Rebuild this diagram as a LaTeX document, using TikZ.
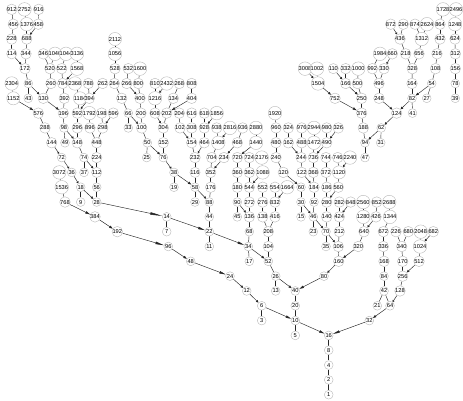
\documentclass[tikz,border=0pt]{standalone}
\usepackage{fontspec}
\setmainfont{Liberation Sans}
\usetikzlibrary{arrows.meta}
\pgfdeclarelayer{bg}
\pgfsetlayers{bg,main}
\tikzset{
  nd/.style={circle,draw=black!28,line width=0.4pt,fill=white,inner sep=0.1pt,minimum size=8.8pt,font=\fontsize{5.7}{6}\selectfont,text=black},
  edge/.style={draw=black!85,line width=0.45pt}
}
\newcommand\N[3]{\node[nd] (n#1) at (#2,{5.3+14.82*#3}) {#1};}
\newcommand\E[2]{%
  \pgfpointdiff{\pgfpointanchor{n#1}{center}}{\pgfpointanchor{n#2}{center}}%
  \pgfgetlastxy{\ex}{\ey}%
  \pgfmathsetmacro\elen{veclen(\ex,\ey)}%
  \pgfmathsetmacro\alen{max(0,0.19*\elen-1.6)}%
  \ifdim\alen pt<1.6pt
    \draw[edge] (n#1) -- (n#2);
  \else
    \draw[edge,-{Triangle[length=\alen pt,width=2.4pt]}] (n#1) -- (n#2);
  \fi}
\newcommand\EE[1]{\foreach \a/\b in {#1} {\E{\a}{\b}}}
\begin{document}
\begin{tikzpicture}[x=1pt,y=1pt]
\useasboundingbox (0,0) rectangle (463,400);
% d=26
\N{912}{11.7}{26}\N{2752}{24.5}{26}\N{916}{38.7}{26}\N{1728}{443}{26}\N{2496}{456}{26}
% d=25
\N{456}{13.3}{25}\N{1376}{26.7}{25}\N{458}{38.3}{25}
\N{872}{390.7}{25}\N{290}{403.3}{25}\N{874}{415}{25}\N{2624}{427}{25}\N{864}{440}{25}\N{1248}{455}{25}
% d=24
\N{228}{11.7}{24}\N{688}{26.7}{24}\N{2112}{115}{24}
\N{436}{400}{24}\N{1312}{421.7}{24}\N{432}{440}{24}\N{624}{455}{24}
% d=23
\N{114}{11.7}{23}\N{344}{26}{23}\N{346}{43.3}{23}\N{1040}{55}{23}\N{1044}{66}{23}\N{3136}{77}{23}\N{1056}{115}{23}
\N{1984}{380}{23}\N{660}{392.3}{23}\N{218}{405.7}{23}\N{656}{419}{23}\N{216}{437}{23}\N{312}{455.3}{23}
% d=22
\N{172}{25}{22}\N{520}{50}{22}\N{522}{61.7}{22}\N{1568}{77}{22}\N{528}{115}{22}\N{532}{128.3}{22}\N{1600}{140}{22}
\N{3008}{305}{22}\N{1002}{317}{22}\N{110}{333.3}{22}\N{332}{345.7}{22}\N{1000}{358.3}{22}\N{992}{372.3}{22}\N{330}{384}{22}\N{328}{412.3}{22}\N{108}{435.5}{22}\N{156}{455.3}{22}
% d=21
\N{2304}{11.7}{21}\N{86}{28.3}{21}\N{260}{51}{21}\N{784}{62.7}{21}\N{2368}{75}{21}\N{788}{88.3}{21}\N{262}{102.7}{21}\N{264}{114.3}{21}\N{266}{126.7}{21}\N{800}{138.3}{21}\N{810}{155}{21}\N{2432}{166.7}{21}\N{268}{179.3}{21}\N{808}{191.7}{21}
\N{1504}{318}{21}\N{166}{345.7}{21}\N{500}{357.5}{21}\N{496}{379}{21}\N{164}{412}{21}\N{54}{431.7}{21}\N{78}{455.3}{21}
% d=20
\N{1152}{13.3}{20}\N{43}{28.3}{20}\N{130}{43.3}{20}\N{392}{64.3}{20}\N{1184}{80}{20}\N{394}{89.3}{20}\N{132}{121.7}{20}\N{400}{140}{20}\N{1216}{155}{20}\N{134}{173.3}{20}\N{404}{191.7}{20}
\N{752}{335}{20}\N{250}{361.7}{20}\N{248}{379}{20}\N{82}{412}{20}\N{27}{426.7}{20}\N{39}{455.3}{20}
% d=19
\N{576}{38.3}{19}\N{196}{63.3}{19}\N{592}{77.3}{19}\N{1792}{89.3}{19}\N{198}{101.7}{19}\N{596}{113.3}{19}\N{66}{128.3}{19}\N{200}{141}{19}\N{608}{155}{19}\N{202}{166.7}{19}\N{204}{179.3}{19}\N{616}{191.7}{19}\N{618}{204.3}{19}\N{1856}{216.7}{19}\N{1920}{275}{19}
\N{376}{361.7}{19}\N{124}{396.7}{19}\N{41}{412.5}{19}
% d=18
\N{288}{45}{18}\N{98}{64}{18}\N{296}{77.3}{18}\N{896}{90}{18}\N{298}{102.7}{18}\N{33}{128.3}{18}\N{100}{141.7}{18}\N{304}{163.3}{18}\N{102}{180}{18}\N{308}{191.7}{18}\N{928}{204.3}{18}\N{938}{216.7}{18}\N{2816}{230}{18}\N{936}{242.7}{18}\N{2880}{256}{18}\N{960}{276}{18}\N{324}{288.3}{18}\N{976}{301.7}{18}\N{2944}{314}{18}\N{980}{326.7}{18}\N{326}{338.3}{18}\N{188}{363.3}{18}\N{62}{381.2}{18}
% d=17
\N{144}{51.7}{17}\N{49}{65}{17}\N{148}{77.3}{17}\N{448}{96.7}{17}\N{50}{147.3}{17}\N{152}{163.3}{17}\N{154}{191.7}{17}\N{464}{204.3}{17}\N{1408}{218.3}{17}\N{468}{237.3}{17}\N{1440}{256}{17}\N{480}{276}{17}\N{162}{288.3}{17}\N{488}{301.7}{17}\N{1472}{314}{17}\N{490}{326.7}{17}\N{94}{365}{17}\N{31}{380.7}{17}
% d=16
\N{72}{61.7}{16}\N{74}{84}{16}\N{224}{96.7}{16}\N{25}{146.7}{16}\N{76}{163.3}{16}\N{232}{195}{16}\N{704}{211.7}{16}\N{234}{224}{16}\N{720}{237.3}{16}\N{724}{249.3}{16}\N{2176}{261.7}{16}\N{240}{276}{16}\N{244}{301.2}{16}\N{736}{313.3}{16}\N{744}{326}{16}\N{746}{337.7}{16}\N{2240}{350}{16}\N{47}{365}{16}
% d=15
\N{3072}{59.3}{15}\N{36}{71.7}{15}\N{37}{84}{15}\N{112}{96.7}{15}\N{38}{174}{15}\N{116}{195}{15}\N{352}{210.7}{15}\N{360}{237.3}{15}\N{362}{249.3}{15}\N{1088}{262.7}{15}\N{120}{283.3}{15}\N{122}{301.7}{15}\N{368}{313.3}{15}\N{372}{326}{15}\N{1120}{339}{15}
% d=14
\N{1536}{61.7}{14}\N{18}{80.7}{14}\N{56}{96.7}{14}\N{19}{174}{14}\N{58}{195}{14}\N{176}{210.7}{14}\N{180}{237.3}{14}\N{544}{249.3}{14}\N{552}{262.7}{14}\N{554}{275}{14}\N{1664}{287.3}{14}\N{60}{301}{14}\N{184}{314}{14}\N{186}{326.7}{14}\N{560}{338.3}{14}
% d=13
\N{768}{65}{13}\N{9}{80.7}{13}\N{28}{96.7}{13}\N{29}{195}{13}\N{88}{209.3}{13}\N{90}{237.3}{13}\N{272}{249.3}{13}\N{276}{262.7}{13}\N{832}{275}{13}\N{30}{301}{13}\N{92}{314}{13}\N{280}{326.7}{13}\N{282}{339.3}{13}\N{848}{350.7}{13}\N{2560}{363.3}{13}\N{852}{376.7}{13}\N{2688}{389.3}{13}
% d=12
\N{384}{95}{12}\N{14}{166.7}{12}\N{44}{209.3}{12}\N{45}{237.3}{12}\N{136}{249.3}{12}\N{138}{262.7}{12}\N{416}{275}{12}\N{15}{301}{12}\N{46}{313.3}{12}\N{140}{326.7}{12}\N{424}{339.3}{12}\N{1280}{363.3}{12}\N{426}{376}{12}\N{1344}{390}{12}
% d=11
\N{192}{117.3}{11}\N{7}{166.7}{11}\N{22}{209.3}{11}\N{68}{249.3}{11}\N{208}{268.3}{11}\N{23}{313.3}{11}\N{70}{326}{11}\N{212}{339.3}{11}\N{640}{364}{11}\N{672}{383.3}{11}\N{226}{396}{11}\N{680}{408.3}{11}\N{2048}{420.7}{11}\N{682}{433.3}{11}
% d=10
\N{96}{168.3}{10}\N{11}{209.3}{10}\N{34}{248.3}{10}\N{104}{268.3}{10}\N{35}{326}{10}\N{106}{338.3}{10}\N{320}{358.3}{10}\N{336}{383.3}{10}\N{340}{401.7}{10}\N{1024}{420}{10}
% d=9
\N{48}{190.7}{9}\N{17}{249.3}{9}\N{52}{268.3}{9}\N{160}{338.7}{9}\N{168}{384}{9}\N{170}{402.7}{9}\N{512}{419}{9}
% d=8
\N{24}{230}{8}\N{26}{275.7}{8}\N{80}{324}{8}\N{84}{384}{8}\N{256}{402.7}{8}
% d=7
\N{12}{246.7}{7}\N{13}{275.7}{7}\N{40}{295.3}{7}\N{42}{384}{7}\N{128}{400}{7}
% d=6
\N{6}{261.7}{6}\N{20}{295.3}{6}\N{21}{377.3}{6}\N{64}{390}{6}
% d=5
\N{3}{261.7}{5}\N{10}{295.3}{5}\N{32}{369.3}{5}
% d<=4
\N{5}{295.3}{4}\N{16}{328.7}{4}\N{8}{328.7}{3}\N{4}{328.7}{2}\N{2}{328.7}{1}\N{1}{328.7}{0}
\begin{pgfonlayer}{bg}
\EE{912/456,456/228,228/114,114/172,2752/1376,1376/688,916/458,458/688,688/344,344/172,172/86,86/43,86/130,346/520,1040/520,520/260,260/130,1044/522,522/784,3136/1568,1568/784,784/392,392/196,130/196,2304/1152,1152/576,576/288,288/144,144/72,72/36,36/18,18/9,18/28,196/98,98/49,98/148,2368/1184,1184/592,788/394,262/394,394/592,592/296,296/148,148/74,74/37,74/112,1792/896,896/448,198/298,596/298,298/448,448/224,224/112,112/56,56/28,3072/1536,1536/768,768/384,384/192,192/96,96/48,48/24,24/12,12/6,6/3,6/10,28/14,14/7,14/22}
\EE{2112/1056,1056/528,528/264,264/132,132/66,66/33,66/100,532/266,266/400,1600/800,800/400,400/200,200/100,100/50,50/25,50/76,810/1216,2432/1216,1216/608,608/304,268/134,134/202,808/404,404/202,202/304,304/152,152/76,76/38,38/19,38/58,204/102,102/154,616/308,308/154,154/232,618/928,1856/928,928/464,464/232,232/116,116/58,58/29,58/88,938/1408,2816/1408,1408/704,704/352,936/468,468/234,234/352,352/176,176/88,88/44,44/22,22/11,22/34}
\EE{2880/1440,1440/720,720/360,360/180,180/90,90/45,90/136,724/362,362/544,2176/1088,1088/544,544/272,272/136,136/68,68/34,34/17,34/52,552/276,276/138,138/208,554/832,1664/832,832/416,416/208,208/104,104/52,52/26,26/13,26/40}
\EE{1920/960,960/480,480/240,240/120,120/60,60/30,30/15,30/46,324/162,162/244,976/488,488/244,244/122,122/184,2944/1472,1472/736,980/490,326/490,490/736,736/368,368/184,184/92,92/46,46/23,46/70,744/372,372/186,186/280,746/1120,2240/1120,1120/560,560/280,280/140,140/70,70/35,70/106,282/424,848/424,424/212,212/106,106/160,2560/1280,1280/640,852/426,426/640,640/320,320/160,160/80,80/40,40/20,20/10,10/5,10/16}
\EE{2688/1344,1344/672,672/336,336/168,168/84,84/42,42/21,42/64,226/340,680/340,340/170,170/256,2048/1024,682/1024,1024/512,512/256,256/128,128/64,64/32,32/16,16/8,8/4,4/2,2/1}
\EE{3008/1504,1002/1504,1504/752,752/376,110/166,332/166,166/250,1000/500,500/250,250/376,376/188,188/94,94/47,1984/992,992/496,660/330,330/496,496/248,248/124,124/62,62/31,62/94,872/436,290/436,436/218,218/328,874/1312,2624/1312,1312/656,656/328,328/164,164/82,82/41,82/124,1728/864,864/432,432/216,216/108,108/54,54/27,54/82,2496/1248,1248/624,624/312,312/156,156/78,78/39}
\end{pgfonlayer}
\end{tikzpicture}
\end{document}
